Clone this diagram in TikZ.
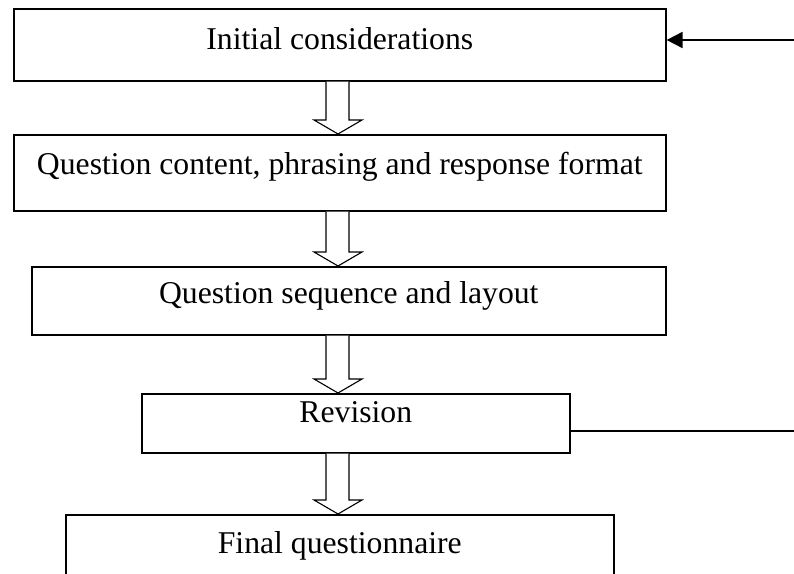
\documentclass[tikz,border=0pt]{standalone}
\usepackage{fontspec}
\setmainfont{Liberation Serif}
\usetikzlibrary{arrows.meta,calc}
\tikzset{
  box/.style={draw, line width=1.6pt, inner xsep=0pt, inner ysep=0pt, anchor=north west,
    font=\fontsize{31.7pt}{38pt}\selectfont, align=center},
  feed/.style={line width=1.8pt},
  hollow/.style={draw, line width=1.1pt, line join=miter, fill=white}
}
\newcommand{\hollowarrow}[2]{%
  \draw[hollow] let \p1=(#1.south), \p2=(#2.north) in
    (326pt,\y1) -- (326pt,\y2+14pt) -- (314pt,\y2+14pt) -- (338pt,\y2)
    -- (362pt,\y2+14pt) -- (349pt,\y2+14pt) -- (349pt,\y1);}
\begin{document}
\begin{tikzpicture}[x=1pt,y=-1pt]
\useasboundingbox (0,0) rectangle (794,573);
\node[box, minimum width=652pt, text height=41pt, text depth=31pt] (b1) at (13,8) {Initial considerations};
\node[box, minimum width=652pt, text height=40pt, text depth=36pt] (b2) at (13,134) {Question content, phrasing and response format};
\node[box, minimum width=634pt, text height=37pt, text depth=31pt] (b3) at (31,266) {Question sequence and layout};
\node[box, minimum width=428pt, text height=29pt, text depth=30pt] (b4) at (141,393) {Revision};
\node[box, minimum width=548pt, text height=39pt, text depth=47pt] (b5) at (65,514) {Final questionnaire};
\hollowarrow{b1}{b2}
\hollowarrow{b2}{b3}
\hollowarrow{b3}{b4}
\hollowarrow{b4}{b5}
\coordinate (in1) at (800,40);
\coordinate (out4) at (800,431);
\draw[feed, -{Triangle[length=16pt,width=16pt]}] (in1) -- (in1 -| b1.east);
\draw[feed] (out4 -| b4.east) -- (out4);
\end{tikzpicture}
\end{document}
